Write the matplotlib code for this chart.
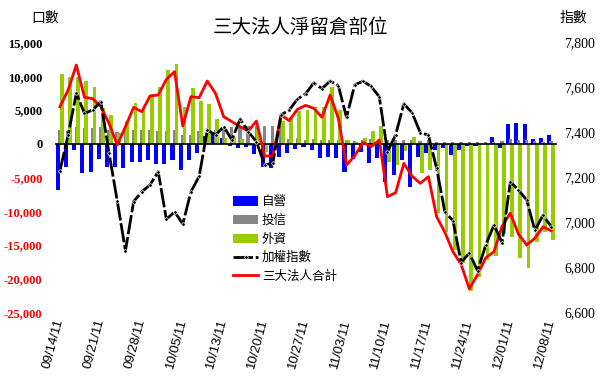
import numpy as np
import matplotlib
matplotlib.use("Agg")
import matplotlib.pyplot as plt

plt.rcParams['font.family'] = ['Noto Sans CJK TC', 'DejaVu Sans']

# 交易日 09/14/11 ~ 12/08/11, 每5日標一個日期
tick_labels = ["09/14/11", "09/21/11", "09/28/11", "10/05/11", "10/13/11", "10/20/11",
               "10/27/11", "11/03/11", "11/10/11", "11/17/11", "11/24/11", "12/01/11", "12/08/11"]

dealer = [-6850, -3390, -930, -4380, -4130, -2300, -3390, -3390, -3640, -2750,
          -2750, -2410, -3000, -3000, -2410, -3890, -2410, -1420, 1200, 1500,
          800, -300, -700, -500, -1500, -3390, -3640, -1910, -1420, -800,
          -500, -930, -2160, -1900, -2160, -4130, -2300, -1170, -2900, -2160,
          -5620, -4630, -2410, -6360, -1910, -1420, -930, -680, -1670, -930,
          -380, -300, -100, 1040, -700, 2920, 3070, 2920, 700, 900,
          1300]

trust = [2100, 1900, 2500, 2300, 2300, 2500, 2000, 1800, 2000, 2000,
         2100, 2000, 1900, 1900, 2000, 1300, 1300, 1900, 2300, 2100,
         2300, 2500, 2600, 2700, 2700, 2700, 2700, 2700, 700, 900,
         600, 700, 600, 500, 600, 500, 400, 500, 700, 600,
         500, 500, 600, 500, 400, 500, 300, 200, 300, 200,
         300, 200, 300, 300, 400, 700, 600, 500, 400, 300,
         400]

foreign = [10330, 9840, 9900, 9290, 8360, 5300, 4260, 1540, 3370, 5990,
           5000, 7300, 8450, 10920, 11770, 5490, 8200, 6330, 5900, 3700,
           900, 1070, 630, -310, 2170, -1170, -900, 3400, 4010, 4800,
           5000, 5500, 5400, 8400, 5000, 500, 200, 900, 1900, 2600,
           -2650, -3100, -1000, 1000, -4400, -3900, -10200, -13000, -15700, -17600,
           -21800, -19700, -17200, -16700, -13300, -13800, -16900, -18400, -14500, -13000,
           -14300]

total = [5490, 7960, 11660, 6880, 6680, 5490, 3020, -190, 2530, 5390,
         4750, 7070, 7220, 9540, 10680, 2630, 6980, 6830, 9290, 7460,
         4010, 3270, 2530, 1890, 3370, -1810, -1810, 4260, 3420, 5100,
         5690, 5250, 3920, 7220, 3760, -3150, -1800, 200, -440, 560,
         -7840, -7240, -2900, -4800, -5860, -4870, -10800, -13100, -16000, -17900,
         -21500, -19400, -16900, -16000, -12200, -10300, -13400, -15000, -14000, -12300,
         -12900]

taiex = [7230, 7389, 7574, 7485, 7500, 7537, 7308, 7096, 6875, 7093,
         7137, 7167, 7226, 7014, 7048, 6993, 7137, 7205, 7411, 7389,
         7426, 7367, 7460, 7404, 7359, 7256, 7263, 7478, 7500, 7548,
         7572, 7621, 7595, 7629, 7608, 7467, 7612, 7628, 7605, 7559,
         7315, 7390, 7528, 7488, 7400, 7388, 7241, 7048, 7008, 6822,
         6865, 6785, 6900, 6989, 6911, 7181, 7144, 7100, 6965, 7033,
         6981]

x = np.arange(len(total))

fig = plt.figure(figsize=(6, 3.86), dpi=100)
ax = fig.add_axes([0.0917, 0.1904, 0.8366, 0.6995])
ax2 = ax.twinx()

b1 = ax.bar(x - 0.25, dealer, width=0.5, color='#0000ff', label='自營')
b2 = ax.bar(x - 0.02, trust, width=0.4, color='#858585', label='投信')
b3 = ax.bar(x + 0.22, foreign, width=0.45, color='#99cc00', label='外資')
ax.axhline(0, color='black', lw=1.2)
l2, = ax.plot(x, total, color='#ff0000', lw=2, label='三大法人合計')

l1, = ax2.plot(x, taiex, color='black', lw=2, ls=(0, (7, 1)),
               marker='o', ms=2.5, mfc='black', mec='white', mew=0.5, label='加權指數')

ax.set_xlim(-0.6, 60.7)
ax.set_ylim(-25000, 15000)
ax2.set_ylim(6600, 7800)

for a in (ax, ax2):
    for s in a.spines.values():
        s.set_visible(False)

yt = np.arange(-25000, 15001, 5000)
ax.set_yticks(yt)
ax.set_yticklabels([f"{v:,}" for v in yt], family='Liberation Serif',
                   fontweight='bold', fontsize=9)
for lab, v in zip(ax.get_yticklabels(), yt):
    lab.set_color('red' if v < 0 else 'black')
ax.tick_params(axis='y', length=0, pad=9)

yt2 = np.arange(6600, 7801, 200)
ax2.set_yticks(yt2)
ax2.set_yticklabels([f"{v:,}" for v in yt2], family='Liberation Serif', fontsize=10)
ax2.tick_params(axis='y', length=0, pad=5)

ax.set_xticks(np.arange(0, 61, 5))
ax.set_xticklabels(tick_labels, rotation=75, ha='right', va='center',
                   rotation_mode='anchor', family='Liberation Sans', fontsize=9.5)
ax.tick_params(axis='x', length=0, pad=5)

fig.text(0.5, 0.93, '三大法人淨留倉部位', ha='center', va='center', fontsize=14)
fig.text(0.052, 0.955, '口數', ha='left', va='center', fontsize=10)
fig.text(0.933, 0.955, '指數', ha='left', va='center', fontsize=10)

fig.legend([b1, b2, b3, l1, l2], ['自營', '投信', '外資', '加權指數', '三大法人合計'],
           loc='upper left', bbox_to_anchor=(0.378, 0.51), frameon=False,
           fontsize=9, handlelength=2.0, handleheight=0.8, handletextpad=0.3,
           labelspacing=0.45, borderpad=0)

fig.savefig('out.png', dpi=100)
